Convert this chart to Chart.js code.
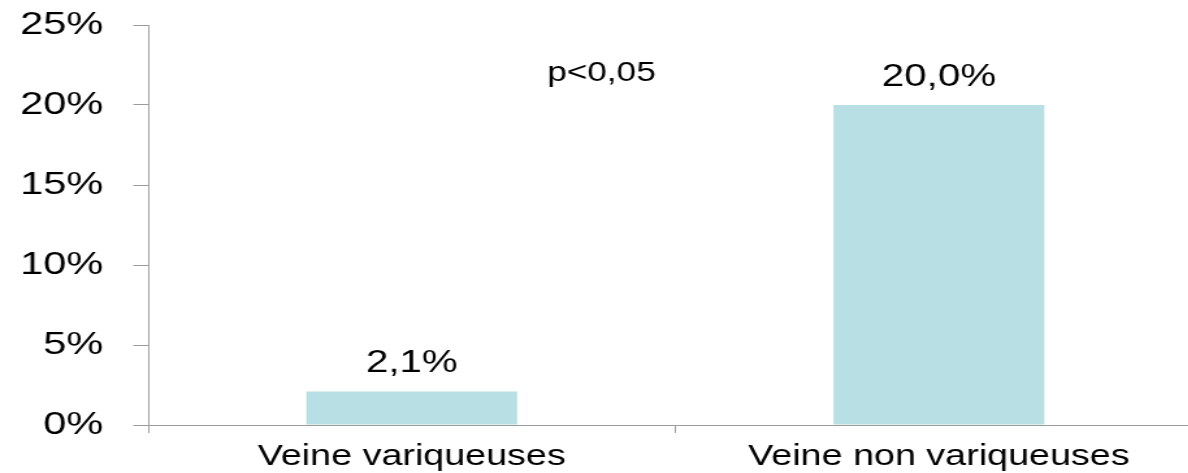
<!DOCTYPE html>
<html>
<head>
<meta charset="utf-8">
<script src="https://cdn.jsdelivr.net/npm/chart.js@4/dist/chart.umd.min.js"></script>
<style>
  html, body { margin: 0; padding: 0; background: #fff; overflow: hidden; }
  #wrap { width: 1188px; height: 473px; overflow: hidden; position: relative; }
  /* the chart is drawn narrow, then widened so its lettering has the broad look of the original */
  #c { display: block; width: 925px; height: 473px; transform: scaleX(1.3); transform-origin: 0 0; }
</style>
</head>
<body>
<div id="wrap"><canvas id="c" width="925" height="473"></canvas></div>
<script>
// Data
const categories = ['Veine variqueuses', 'Veine non variqueuses'];
const percentages = [2.1, 20.0];
const yTicks = [0, 5, 10, 15, 20, 25];
const significance = 'p<0,05';

const FONT = "'Liberation Sans', Arial, sans-serif";
const AXIS_GREY = '#9c9c9c';
const BAR_FILL = '#b8dfe3';

const frPercent = v => v.toFixed(1).replace('.', ',') + '%';

// value labels above each bar, plus the significance note
const annotations = {
  id: 'annotations',
  afterDatasetsDraw(chart) {
    const ctx = chart.ctx;
    const meta = chart.getDatasetMeta(0);
    ctx.save();
    ctx.fillStyle = '#000';
    ctx.textAlign = 'center';
    ctx.textBaseline = 'alphabetic';
    ctx.font = '31px ' + FONT;
    meta.data.forEach((bar, i) => {
      ctx.fillText(frPercent(percentages[i]), bar.x, bar.y - 19);
    });
    const area = chart.chartArea;
    ctx.font = '27px ' + FONT;
    ctx.fillText(significance, area.left + (area.right - area.left) * 0.43, area.top + 56);
    ctx.restore();
  }
};

new Chart(document.getElementById('c'), {
  type: 'bar',
  data: {
    labels: categories,
    datasets: [{
      data: percentages,
      backgroundColor: BAR_FILL,
      borderWidth: 0,
      barPercentage: 0.4,
      categoryPercentage: 1.0
    }]
  },
  options: {
    responsive: false,
    maintainAspectRatio: false,
    devicePixelRatio: 1,
    animation: false,
    layout: { padding: { top: 25, right: 0, bottom: 0, left: 0 } },
    plugins: { legend: { display: false }, tooltip: { enabled: false } },
    scales: {
      x: {
        offset: true,
        grid: {
          offset: true,
          drawOnChartArea: false,
          drawTicks: true,
          tickLength: 8,
          color: AXIS_GREY,
          lineWidth: 1
        },
        border: { display: true, color: AXIS_GREY, width: 1 },
        ticks: {
          color: '#000',
          font: { family: FONT, size: 29 },
          padding: 7,
          maxRotation: 0,
          autoSkip: false
        },
        afterFit(scale) {
          scale.height = 48;
          scale.paddingLeft = 0;
          scale.paddingRight = 0;
        }
      },
      y: {
        min: 0,
        max: 25,
        afterBuildTicks(scale) { scale.ticks = yTicks.map(v => ({ value: v })); },
        grid: {
          drawOnChartArea: false,
          drawTicks: true,
          tickLength: 11.5,
          color: AXIS_GREY,
          lineWidth: 1
        },
        border: { display: true, color: AXIS_GREY, width: 1 },
        ticks: {
          color: '#000',
          font: { family: FONT, size: 32 },
          padding: 23,
          callback: v => v + '%'
        },
        afterFit(scale) {
          scale.width = 114;
          scale.paddingTop = 0;
          scale.paddingBottom = 0;
        }
      }
    }
  },
  plugins: [annotations]
});
</script>
</body>
</html>
